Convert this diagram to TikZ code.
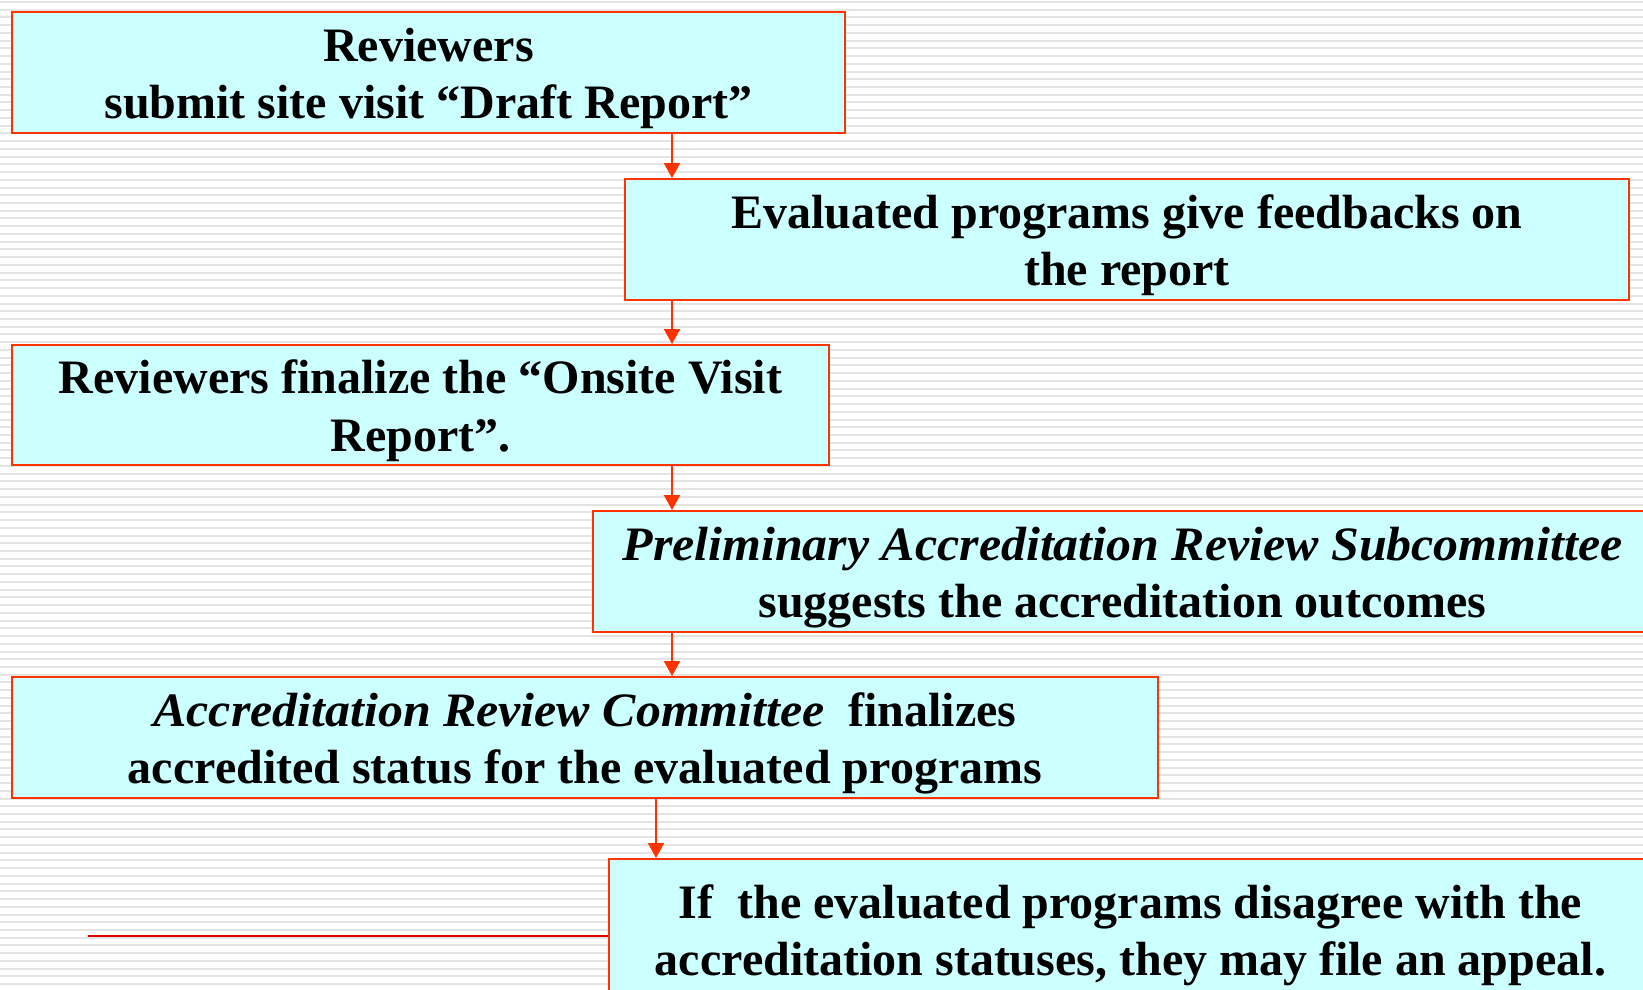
\documentclass[tikz,border=0pt]{standalone}
\usepackage{fontspec}
\setmainfont{Liberation Serif}[BoldItalicFeatures={FakeStretch=1.04}]
\usepackage{tikz}
\usetikzlibrary{arrows.meta}

\definecolor{boxfill}{HTML}{CCFFFF}
\definecolor{boxline}{HTML}{FF3300}
\definecolor{stripe}{HTML}{E4E4E4}
\definecolor{appealline}{HTML}{E00000}

% lines of a box, set a little below the middle
\newcommand{\boxtext}[1]{\raisebox{-3pt}[\height][\depth]{\begin{tabular}{@{}c@{}}#1\end{tabular}}}

\begin{document}
\begin{tikzpicture}
	[x=0.5pt,y=-0.5pt,->,>={Triangle[width=8pt,length=7.5pt]},
		flow node/.style={rectangle,draw=boxline,fill=boxfill,line width=1pt,inner sep=0pt,
			font=\fontsize{24}{28.75}\selectfont\bfseries},
		link/.style={draw=boxline,line width=1pt}]

	\useasboundingbox (0,0) rectangle (1643,990);
	\clip (0,0) rectangle (1643,990);

	% striped background
	\foreach \i in {0,...,127}
		\fill[stripe] (0,{0.9+7.734*\i}) rectangle (1643,{2.9+7.734*\i});

	\node[flow node, minimum width=416.5pt, minimum height=60.5pt] at (428.5,72.5)  (rev)
		{\boxtext{Reviewers\\ submit site visit “Draft Report”}};
	\node[flow node, minimum width=502pt, minimum height=60.5pt] at (1127,239.5)  (feed)
		{\boxtext{Evaluated programs give feedbacks on\\ the report}};
	\node[flow node, minimum width=408.5pt, minimum height=60pt] at (420.5,405)  (onsite)
		{\boxtext{Reviewers finalize the “Onsite Visit\\ Report”.}};
	\node[flow node, minimum width=529.5pt, minimum height=60.5pt] at (1122.5,571.5)  (sub)
		{\boxtext{\textit{Preliminary Accreditation Review Subcommittee}\\ suggests the accreditation outcomes}};
	\node[flow node, minimum width=573pt, minimum height=60.5pt] at (585,737.5)  (arc)
		{\boxtext{\textit{Accreditation Review Committee}\ \ finalizes\\ accredited status for the evaluated programs}};
	\node[flow node, minimum width=521.5pt, minimum height=70.5pt] at (1130.5,929.5)  (appeal)
		{\boxtext{If~ the evaluated programs disagree with the\\ accreditation statuses, they may file an appeal.}};

	\coordinate (ax) at (672,0);
	\coordinate (bx) at (656,0);
	\coordinate (lineend) at (88,936);

	\draw[link] (rev.south -| ax)    -- (feed.north -| ax);
	\draw[link] (feed.south -| ax)   -- (onsite.north -| ax);
	\draw[link] (onsite.south -| ax) -- (sub.north -| ax);
	\draw[link] (sub.south -| ax)    -- (arc.north -| ax);
	\draw[link] (arc.south -| bx)    -- (appeal.north -| bx);

	\draw[-,appealline,line width=0.6pt] (lineend) -- (lineend -| appeal.west);

\end{tikzpicture}
\end{document}
